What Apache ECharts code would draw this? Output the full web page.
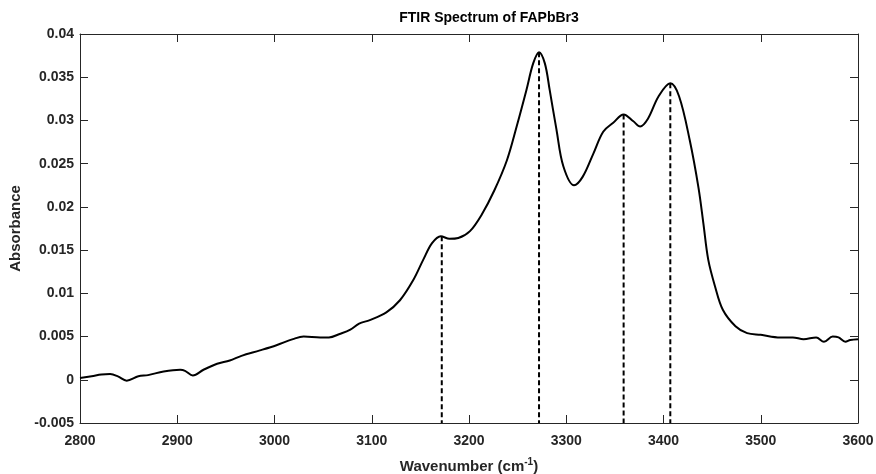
<!DOCTYPE html>
<html>
<head>
    <meta charset="utf-8">
    <title>FTIR Spectrum of FAPbBr3</title>
    <script src="https://cdn.jsdelivr.net/npm/echarts@6/dist/echarts.min.js"></script>
    <style>
        html, body { margin: 0; padding: 0; background: #fff; }
        #chart { width: 876px; height: 474px; }
    </style>
</head>
<body>
<div id="chart"></div>
<script>
    // spectrum
    var wavenumber = [2800, 2812, 2822, 2831, 2839, 2848, 2860, 2870, 2886, 2903, 2908, 2916, 2927, 2941, 2954, 2966,
        2985, 3002, 3019, 3030, 3047, 3056, 3067, 3078, 3087, 3098, 3115, 3129, 3143, 3153, 3162, 3171, 3180, 3189,
        3201, 3213, 3226, 3239, 3249, 3259, 3266, 3272, 3278, 3283, 3290, 3297, 3308, 3317, 3328, 3338, 3348, 3359,
        3369, 3376, 3384, 3395, 3407, 3416, 3427, 3436, 3441, 3446, 3453, 3461, 3474, 3486, 3500, 3520, 3533, 3544,
        3557, 3565, 3574, 3580, 3587, 3592, 3600];
    var absorbance = [0.0002, 0.0004, 0.0006, 0.00066, 0.0004, -0.0001, 0.0004, 0.00054, 0.00096, 0.00116, 0.00104,
        0.0005, 0.00116, 0.00185, 0.00223, 0.00277, 0.0034, 0.004, 0.0047, 0.005, 0.0049, 0.0049, 0.0053, 0.0058,
        0.0065, 0.0069, 0.0078, 0.0092, 0.0116, 0.0139, 0.0158, 0.0166, 0.0163, 0.0164, 0.0172, 0.0191, 0.0219,
        0.0254, 0.0293, 0.0335, 0.0366, 0.0379, 0.0366, 0.0335, 0.0289, 0.0247, 0.0225, 0.0235, 0.0262, 0.0287,
        0.0297, 0.0307, 0.0299, 0.0293, 0.0302, 0.0328, 0.0343, 0.0328, 0.0277, 0.0222, 0.0181, 0.0139, 0.0108,
        0.0081, 0.0062, 0.0054, 0.0052, 0.0049, 0.0049, 0.0047, 0.0049, 0.0044, 0.005, 0.0049, 0.0044, 0.0046,
        0.0047];

    // marked peaks
    var peakWn = [3172, 3272, 3359, 3407];
    var peakAbs = [0.0166, 0.0379, 0.0307, 0.0343];

    var yMin = -0.005, yMax = 0.04, yStep = 0.005;
    var xMin = 2800, xMax = 3600, xStep = 100;

    var txt = '#262626';
    var font = '"Liberation Sans", Arial, sans-serif';

    var spectrum = wavenumber.map(function (w, i) { return [w, absorbance[i]]; });

    var series = [{
        name: 'spectrum',
        type: 'line',
        data: spectrum,
        smooth: 0.35,
        showSymbol: false,
        lineStyle: { color: '#000', width: 2 },
        z: 3
    }];
    peakWn.forEach(function (w, i) {
        series.push({
            type: 'line',
            data: [[w, peakAbs[i]], [w, yMin]],
            showSymbol: false,
            lineStyle: { color: '#000', width: 2, type: [5, 3] },
            z: 2
        });
    });

    var myChart = echarts.init(document.getElementById('chart'));

    var boxLine = { show: true, onZero: false, lineStyle: { color: '#262626', width: 1 } };
    var inTick = { show: true, inside: true, length: 8, lineStyle: { color: '#262626' } };

    var option = {
        animation: false,
        title: {
            text: 'FTIR Spectrum of FAPbBr3',
            left: 484,
            textAlign: 'center',
            top: 6,
            textStyle: { fontFamily: font, fontSize: 14, fontWeight: 'bold', color: '#000' }
        },
        grid: { left: 80, right: 18, top: 34, bottom: 51, containLabel: false, outerBoundsMode: 'none' },
        xAxis: [{
            type: 'value',
            min: xMin, max: xMax, interval: xStep,
            axisLine: boxLine,
            axisTick: inTick,
            splitLine: { show: false },
            axisLabel: {
                color: txt, fontFamily: font, fontSize: 14, fontWeight: 'bold', margin: 11,
                formatter: function (v) { return String(v); }
            },
            name: '{a|Wavenumber (cm}{s|-1}{a|)}',
            nameLocation: 'middle',
            nameGap: 34,
            nameTextStyle: {
                rich: {
                    a: { fontFamily: font, fontSize: 15, fontWeight: 'bold', color: txt },
                    s: { fontFamily: font, fontSize: 10, fontWeight: 'bold', color: txt, verticalAlign: 'top', padding: [0, 0, 9, 0] }
                }
            }
        }, {
            type: 'value',
            position: 'top',
            min: xMin, max: xMax, interval: xStep,
            axisLine: boxLine,
            axisTick: inTick,
            axisLabel: { show: false },
            splitLine: { show: false }
        }],
        yAxis: [{
            type: 'value',
            min: yMin, max: yMax, interval: yStep,
            axisLine: boxLine,
            axisTick: inTick,
            splitLine: { show: false },
            axisLabel: {
                color: txt, fontFamily: font, fontSize: 14, fontWeight: 'bold', margin: 6,
                formatter: function (v) { return String(+v.toFixed(3)); }
            },
            name: 'Absorbance',
            nameLocation: 'middle',
            nameGap: 56,
            nameTextStyle: { fontFamily: font, fontSize: 15, fontWeight: 'bold', color: txt }
        }, {
            type: 'value',
            position: 'right',
            min: yMin, max: yMax, interval: yStep,
            axisLine: boxLine,
            axisTick: inTick,
            axisLabel: { show: false },
            splitLine: { show: false }
        }],
        series: series
    };

    myChart.setOption(option);
</script>
</body>
</html>
